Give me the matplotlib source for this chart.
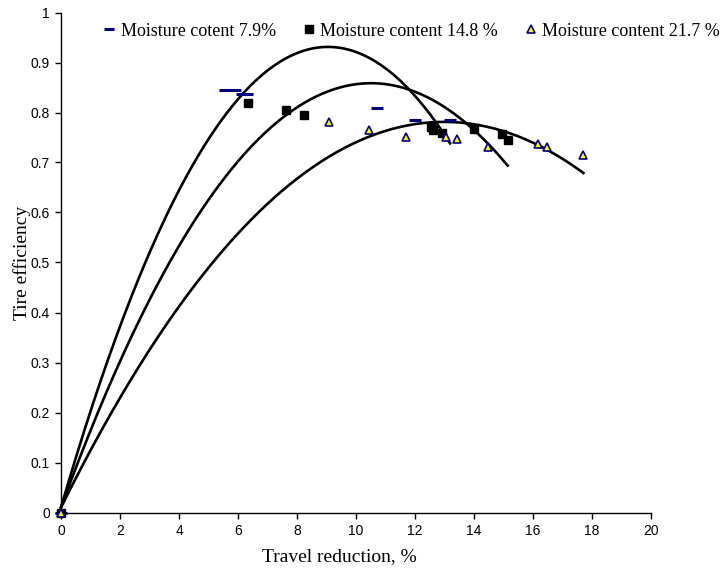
import matplotlib
matplotlib.use("Agg")
import matplotlib.pyplot as plt
import numpy as np
from matplotlib.ticker import FuncFormatter, MultipleLocator

# Moisture content 7.9 %
x_79 = [0, 5.56, 5.90, 6.13, 6.29, 10.70, 12.00, 13.19]
y_79 = [0, 0.846, 0.846, 0.838, 0.838, 0.810, 0.785, 0.785]
# Moisture content 14.8 %
x_148 = [0, 6.35, 7.62, 8.23, 12.53, 12.62, 12.93, 14.01, 14.94, 15.14]
y_148 = [0, 0.820, 0.806, 0.796, 0.772, 0.765, 0.760, 0.767, 0.757, 0.746]
# Moisture content 21.7 %
x_217 = [0, 9.08, 10.44, 11.68, 13.04, 13.41, 14.48, 16.18, 16.46, 17.71]
y_217 = [0, 0.782, 0.766, 0.752, 0.752, 0.747, 0.732, 0.737, 0.732, 0.715]

# Polynomial (order 2) trendline coefficients [c2, c1, c0]
trend_79 = [-0.01125, 0.2036, 0.01]
trend_148 = [-0.007684, 0.1615, 0.01]
trend_217 = [-0.004575, 0.1188, 0.01]

legend_labels = ["Moisture cotent 7.9%", "Moisture content 14.8 %", "Moisture content 21.7 %"]

fig = plt.figure(figsize=(7.27, 5.70), dpi=100)
ax = fig.add_axes([61/727, 1-512.5/570, 590/727, 500/570])

for xs, coef in [(x_79, trend_79), (x_148, trend_148), (x_217, trend_217)]:
    xx = np.linspace(0, max(xs), 200)
    ax.plot(xx, np.polyval(coef, xx), color="black", lw=1.9, zorder=2)

navy = "#000080"
h1, = ax.plot(x_79, y_79, ls="none", marker="_", ms=9, mew=2.2, color=navy, zorder=3,
              label=legend_labels[0])
h2, = ax.plot(x_148, y_148, ls="none", marker="s", ms=6, color="black", mec="black", zorder=3,
              label=legend_labels[1])
h3, = ax.plot(x_217, y_217, ls="none", marker="^", ms=6, mfc="#ffff00", mec=navy, mew=1.2,
              zorder=4, label=legend_labels[2])

ax.set_xlim(0, 20)
ax.set_ylim(0, 1)
ax.xaxis.set_major_locator(MultipleLocator(2))
ax.yaxis.set_major_locator(MultipleLocator(0.1))
fmt = FuncFormatter(lambda v, p: "%g" % round(v, 2))
ax.xaxis.set_major_formatter(fmt)
ax.yaxis.set_major_formatter(fmt)
for s in ["top", "right"]:
    ax.spines[s].set_visible(False)
for s in ["left", "bottom"]:
    ax.spines[s].set_linewidth(1.0)
ax.tick_params(direction="out", length=4, width=1, labelsize=10, pad=4)
for lab in ax.get_xticklabels() + ax.get_yticklabels():
    lab.set_family("Liberation Sans")

ax.set_xlabel("Travel reduction, %", family="Liberation Serif", fontsize=14)
ax.set_ylabel("Tire efficiency", family="Liberation Serif", fontsize=14)
ax.xaxis.set_label_coords((339-61)/590, -(548-512.5)/500)
ax.yaxis.set_label_coords(-(61-31)/590, 0.5)

for ln in ax.lines:
    ln.set_clip_on(False)

leg = fig.legend(handles=[h1, h2, h3], loc="center", bbox_to_anchor=(412/727, 1-31/570),
                 ncol=3, frameon=False, prop={"family": "Liberation Serif", "size": 13},
                 handlelength=0.6, handletextpad=0.35, columnspacing=1.5, markerscale=0.85,
                 borderpad=0.1)

fig.savefig("out.png", dpi=100)
